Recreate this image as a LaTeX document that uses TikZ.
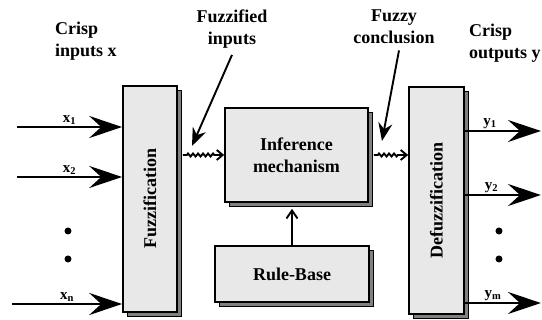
\documentclass[tikz,border=0pt]{standalone}
\usepackage{fontspec}
\setmainfont{Liberation Serif}
\usepackage{tikz}
\usetikzlibrary{
  calc,                  % Offsets past the box shadows
  shadows,               % Dark copy behind each block
  decorations.pathmorphing, % Jagged links between blocks
  arrows.meta            % Stealth and barb tips
}

\tikzset{
  block/.style={draw, line width=1.6pt, fill=gray!18, inner sep=0pt, align=center,
    font=\bfseries\fontsize{18}{22}\selectfont,
    general shadow={fill=black!50, draw=black, line width=1pt,
      shadow xshift=4.5pt, shadow yshift=-4.5pt}},
  tag/.style={font=\bfseries\fontsize{18}{22}\selectfont, inner sep=0pt},
  sub/.style={font=\bfseries\fontsize{15}{15}\selectfont, inner sep=1.5pt},
  dot/.style={circle, fill, inner sep=0pt, minimum size=7pt},
  bigarrow/.style={line width=2.2pt, -{Stealth[length=33pt, width=22pt, inset=12pt]}},
  pointer/.style={line width=1.9pt, -{Stealth[length=18pt, width=14pt, inset=6pt]}},
  link/.style={line width=1.9pt, -{Straight Barb[length=6pt, width=10pt]}},
  jagged/.style={decorate, decoration={zigzag, amplitude=1.5pt, segment length=5pt,
    pre length=4pt, post length=8pt}}
}

\begin{document}
\begin{tikzpicture}
            \useasboundingbox (0,0) rectangle (19.05,11.247);

            % the four stages
            \node[block, minimum width=54pt, minimum height=226pt] (fuzz) at (5.272,4.253) {\rotatebox{90}{Fuzzification}};
            \node[block, minimum width=143pt, minimum height=94pt] (inf) at (10.421,5.799) {Inference\\mechanism};
            \node[block, minimum width=154pt, minimum height=56pt] (rule) at (10.263,1.617) {Rule-Base};
            \node[block, minimum width=55pt, minimum height=227pt] (defuzz) at (15.341,4.200) {\rotatebox{90}{Defuzzification}};

            % headings
            \node[tag, align=left, anchor=north west] (crispin) at (1.933,10.473) {Crisp\\inputs x};
            \node[tag, align=center, anchor=north] (fuzzlbl) at (8.154,10.895) {Fuzzified\\inputs};
            \node[tag, align=center, anchor=north] (conclbl) at (13.848,10.895) {Fuzzy\\conclusion};
            \node[tag, align=left, anchor=north west] (crispout) at (16.484,10.403) {Crisp\\outputs y};

            % crisp inputs
            \coordinate (x1) at (0.597,6.783);
            \coordinate (x2) at (0.597,5.026);
            \coordinate (xn) at (0.422,0.562);
            \draw[bigarrow] (x1) -- (fuzz.west |- x1) node[sub, above, pos=0.5] (x1lbl) {x\textsubscript{1}};
            \draw[bigarrow] (x2) -- (fuzz.west |- x2) node[sub, above, pos=0.5] (x2lbl) {x\textsubscript{2}};
            \draw[bigarrow] (xn) -- (fuzz.west |- xn) node[sub, above, pos=0.5] (xnlbl) {x\textsubscript{n}};
            \node[dot] (xdot1) at (2.390,3.128) {};
            \node[dot] (xdot2) at (2.390,2.144) {};

            % crisp outputs
            \coordinate (y1) at (19.014,6.643);
            \coordinate (y2) at (19.014,4.393);
            \coordinate (ym) at (19.014,0.597);
            \draw[bigarrow] (defuzz.east |- y1) -- (y1) node[sub, above, pos=0.33] (y1lbl) {y\textsubscript{1}};
            \draw[bigarrow] (defuzz.east |- y2) -- (y2) node[sub, above, pos=0.35] (y2lbl) {y\textsubscript{2}};
            \draw[bigarrow] (defuzz.east |- ym) -- (ym) node[sub, above, pos=0.37] (ymlbl) {y\textsubscript{m}};
            \node[dot] (ydot1) at (17.538,3.128) {};
            \node[dot] (ydot2) at (17.538,2.144) {};

            % links between the stages
            \draw[link, jagged] ($(fuzz.east |- inf.west)+(5pt,0)$) -- (inf.west);
            \draw[link, jagged] ($(inf.east)+(5pt,0)$) -- (defuzz.west |- inf.east);
            \draw[line width=1.9pt, -{Straight Barb[length=8pt, width=11pt]}] (rule.north) -- ($(inf.south -| rule.north)+(0,-6pt)$);

            % pointers from the headings
            \coordinate (fuzzpt) at (6.748,6.115);
            \coordinate (conclpt) at (13.426,6.291);
            \draw[pointer] ([yshift=-6pt]fuzzlbl.south) -- (fuzzpt);
            \draw[pointer] ([xshift=5pt, yshift=-6pt]conclbl.south) -- (conclpt);
        \end{tikzpicture}
\end{document}
